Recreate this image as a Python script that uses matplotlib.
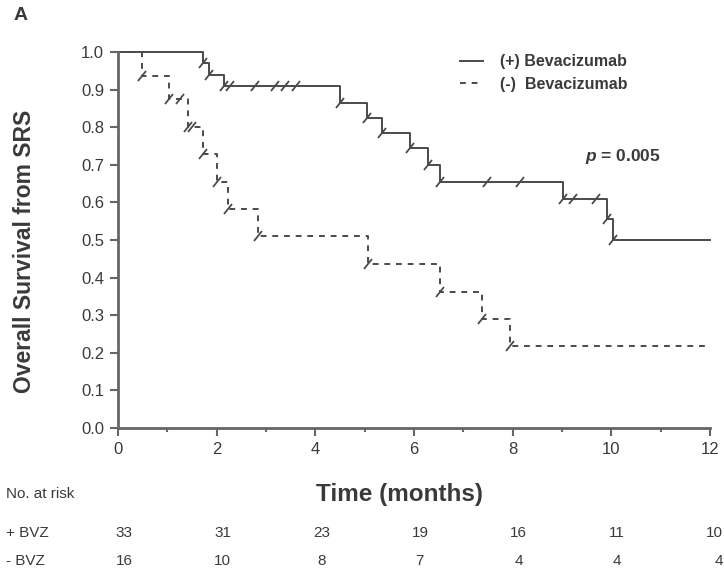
import matplotlib
matplotlib.use("Agg")
import matplotlib.pyplot as plt
from matplotlib.markers import MarkerStyle
from matplotlib.transforms import Affine2D, blended_transform_factory
from matplotlib.lines import Line2D

plt.rcParams['font.family'] = ['Liberation Sans', 'DejaVu Sans']
plt.rcParams['mathtext.fontset'] = 'custom'
plt.rcParams['mathtext.it'] = 'Liberation Sans:italic:bold'

# (+) Bevacizumab arm: event times (months) and survival after each event
bvz_times = [1.72, 1.85, 2.15, 4.50, 5.05, 5.35, 5.92, 6.29, 6.53, 9.03, 9.92, 10.04]
bvz_surv = [0.97, 0.94, 0.91, 0.865, 0.825, 0.785, 0.745, 0.70, 0.655, 0.61, 0.555, 0.50]
bvz_censor = [2.27, 2.78, 3.19, 3.39, 3.60, 7.48, 8.15, 9.23, 9.68]

# (-) Bevacizumab arm
nobvz_times = [0.49, 1.03, 1.42, 1.73, 2.00, 2.23, 2.84, 5.07, 6.53, 7.38, 7.95]
nobvz_surv = [0.9375, 0.875, 0.80, 0.728, 0.655, 0.583, 0.51, 0.435, 0.363, 0.29, 0.218]
nobvz_censor = [1.26, 1.50]

t_max = 12

# Numbers at risk
risk_times = [0, 2, 4, 6, 8, 10, 12]
risk_bvz = [33, 31, 23, 19, 16, 11, 10]
risk_nobvz = [16, 10, 8, 7, 4, 4, 4]

line_col = '#4a4a4a'
text_col = '#3a3a3a'

fig = plt.figure(figsize=(7.24, 5.77), dpi=100)
ax = fig.add_axes([118 / 724, 1 - 428 / 577, (710 - 118) / 724, (428 - 52) / 577])


def step_xy(times, surv):
    xs = [0] + list(times) + [t_max]
    ys = [1.0] + list(surv) + [surv[-1]]
    return xs, ys


def level_at(times, surv, t):
    s = 1.0
    for ti, si in zip(times, surv):
        if ti <= t:
            s = si
    return s


tick_marker = MarkerStyle('|', transform=Affine2D().rotate_deg(-40))

for times, surv, cens, ls in [(bvz_times, bvz_surv, bvz_censor, '-'),
                              (nobvz_times, nobvz_surv, nobvz_censor, (0, (3, 3)))]:
    xs, ys = step_xy(times, surv)
    ax.step(xs, ys, where='post', color=line_col, lw=1.4, linestyle=ls, clip_on=False)
    # symbols at every event and censoring point
    ax.plot(times, surv, linestyle='none', marker=tick_marker, ms=8.5, mew=1.3,
            color=line_col, clip_on=False)
    ax.plot(cens, [level_at(times, surv, c) for c in cens], linestyle='none',
            marker=tick_marker, ms=8.5, mew=1.3, color=line_col, clip_on=False)

ax.set_xlim(0, 12)
ax.set_ylim(0, 1.0)
ax.set_xticks(range(0, 13, 2))
ax.set_xticks(range(1, 12, 2), minor=True)
ax.set_yticks([i / 10 for i in range(11)])
ax.set_yticklabels([f"{i / 10:.1f}" for i in range(11)])
for s in ['top', 'right']:
    ax.spines[s].set_visible(False)
for s in ['left', 'bottom']:
    ax.spines[s].set_color('#666666')
    ax.spines[s].set_linewidth(2.0)
ax.tick_params(axis='both', which='major', length=6, width=1.5, color='#666666',
               labelsize=12, labelcolor=text_col, pad=4)
ax.tick_params(axis='x', which='minor', length=3, width=1.5, color='#666666')

ax.set_ylabel('Overall Survival from SRS', fontsize=16.5, fontweight='bold',
              color=text_col)
ax.yaxis.set_label_coords(-0.138, 0.47)

fig.text(400 / 724, 1 - 494 / 577, 'Time (months)', fontsize=17.5, fontweight='bold',
         color=text_col, ha='center', va='center')
fig.text(14 / 724, 1 - 16 / 577, 'A', fontsize=14, fontweight='bold',
         color=text_col, ha='left', va='center')

# legend
handles = [Line2D([], [], color=line_col, lw=1.4, linestyle='-'),
           Line2D([], [], color=line_col, lw=1.4, linestyle=(0, (3, 3)))]
ax.legend(handles, ['(+) Bevacizumab', '(-)  Bevacizumab'], loc='upper left',
          bbox_to_anchor=(446 / 724, 1 - 40 / 577), bbox_transform=fig.transFigure,
          frameon=False, handlelength=1.4, handletextpad=1.1, labelspacing=0.45,
          prop={'weight': 'bold', 'size': 11.5}, labelcolor=text_col)

fig.text(585 / 724, 1 - 157 / 577, r'$\mathit{p}$ = 0.005', fontsize=12.5,
         fontweight='bold', color=text_col, ha='left', va='center')

# numbers at risk table
fig.text(6 / 724, 1 - 494 / 577, 'No. at risk', fontsize=11, color=text_col,
         ha='left', va='center')
fig.text(6 / 724, 1 - 533 / 577, '+ BVZ', fontsize=11, color=text_col,
         ha='left', va='center')
fig.text(6 / 724, 1 - 561 / 577, '- BVZ', fontsize=11, color=text_col,
         ha='left', va='center')
trans = blended_transform_factory(ax.transData, fig.transFigure)
for t, a, b in zip(risk_times, risk_bvz, risk_nobvz):
    xt = t + 0.12 if t < 12 else t + 0.27
    ha = 'center' if t < 12 else 'right'
    ax.text(xt, 1 - 533 / 577, str(a), transform=trans, fontsize=11,
            color=text_col, ha=ha, va='center')
    ax.text(xt, 1 - 561 / 577, str(b), transform=trans, fontsize=11,
            color=text_col, ha=ha, va='center')

fig.savefig('out.png', dpi=100)
